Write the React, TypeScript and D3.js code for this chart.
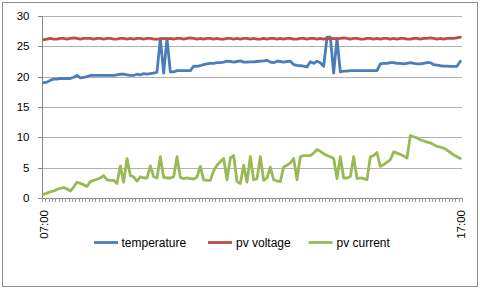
import React from "react";
import * as d3 from "d3";

const timeLabels = ["07:00", "17:00"];
const yTicks = [0, 5, 10, 15, 20, 25, 30];
const seriesNames = ["temperature", "pv voltage", "pv current"];
const seriesColors = ["#4A7EBB", "#BE4B48", "#98B954"];

const temperature = [
  19.0, 19.1, 19.4, 19.6, 19.6, 19.7, 19.7, 19.7, 19.7, 19.9,
  20.2, 19.8, 19.9, 20.0, 20.2, 20.2, 20.2, 20.2, 20.2, 20.2,
  20.2, 20.2, 20.3, 20.4, 20.4, 20.3, 20.2, 20.2, 20.4, 20.3,
  20.5, 20.4, 20.5, 20.6, 20.75, 26.3, 20.6, 26.3, 20.8, 20.8,
  21.0, 21.0, 21.0, 21.0, 21.0, 21.75, 21.7, 21.8, 22.0, 22.1,
  22.2, 22.2, 22.3, 22.3, 22.4, 22.55, 22.5, 22.4, 22.5, 22.6,
  22.4, 22.4, 22.45, 22.45, 22.5, 22.55, 22.6, 22.7, 22.4, 22.3,
  22.55, 22.5, 22.4, 22.5, 22.55, 22.0, 21.85, 21.8, 21.75, 21.6,
  22.45, 22.2, 22.55, 22.3, 21.7, 26.5, 26.5, 20.6, 26.3, 20.8,
  20.9, 20.9, 21.0, 21.0, 21.0, 21.0, 21.0, 21.0, 21.0, 21.0,
  21.0, 22.1, 22.2, 22.2, 22.3, 22.3, 22.2, 22.2, 22.1, 22.2,
  22.3, 22.2, 22.1, 22.1, 22.2, 22.3, 22.3, 22.0, 21.9, 21.8,
  21.75, 21.75, 21.7, 21.7, 21.7, 22.55,
];

const pvVoltage = [
  26.1, 26.2, 26.3, 26.2, 26.2, 26.3, 26.3, 26.2, 26.3, 26.4,
  26.3, 26.2, 26.3, 26.3, 26.3, 26.2, 26.3, 26.3, 26.2, 26.3,
  26.3, 26.2, 26.2, 26.3, 26.3, 26.2, 26.3, 26.2, 26.3, 26.3,
  26.2, 26.3, 26.3, 26.2, 26.2, 26.2, 26.3, 26.2, 26.3, 26.2,
  26.3, 26.3, 26.2, 26.3, 26.4, 26.3, 26.2, 26.3, 26.2, 26.3,
  26.3, 26.2, 26.3, 26.2, 26.2, 26.3, 26.3, 26.2, 26.3, 26.2,
  26.3, 26.3, 26.2, 26.3, 26.2, 26.2, 26.3, 26.2, 26.3, 26.3,
  26.2, 26.3, 26.2, 26.3, 26.3, 26.2, 26.2, 26.3, 26.3, 26.2,
  26.3, 26.3, 26.2, 26.3, 26.2, 26.3, 26.2, 26.3, 26.2, 26.3,
  26.4, 26.3, 26.2, 26.3, 26.3, 26.2, 26.2, 26.3, 26.3, 26.2,
  26.3, 26.2, 26.3, 26.3, 26.2, 26.3, 26.2, 26.3, 26.3, 26.2,
  26.2, 26.3, 26.3, 26.2, 26.3, 26.3, 26.4, 26.3, 26.2, 26.3,
  26.2, 26.3, 26.3, 26.3, 26.4, 26.5,
];

const pvCurrent = [
  0.6, 0.8, 1.0, 1.15, 1.4, 1.6, 1.7, 1.5, 1.15, 1.8,
  2.6, 2.4, 2.2, 1.9, 2.7, 2.9, 3.1, 3.3, 3.7, 3.0,
  2.9, 2.9, 2.4, 5.3, 2.6, 6.5, 3.7, 3.5, 2.8, 3.5,
  3.3, 3.3, 5.3, 3.5, 3.3, 6.8, 3.4, 3.3, 3.3, 3.5,
  6.8, 3.4, 3.2, 3.3, 3.2, 3.1, 3.5, 5.2, 3.0, 2.9,
  2.9, 4.5, 5.4, 6.0, 6.5, 3.0, 6.6, 7.0, 2.7, 2.4,
  5.4, 2.6, 6.8, 3.0, 3.2, 6.8, 2.9, 3.3, 5.1, 3.0,
  2.8, 2.7, 5.1, 5.4, 5.8, 6.5, 3.0, 6.8, 7.0, 7.0,
  7.0, 7.4, 8.0, 7.7, 7.3, 7.0, 6.8, 6.5, 3.2, 6.8,
  3.3, 3.3, 3.5, 6.8, 3.2, 3.3, 3.2, 3.0, 6.8, 7.0,
  7.5, 5.2, 5.5, 5.9, 6.3, 7.6, 7.4, 7.2, 6.9, 6.6,
  10.3, 10.1, 9.9, 9.6, 9.4, 9.2, 9.1, 8.8, 8.5, 8.4,
  8.2, 7.9, 7.5, 7.1, 6.8, 6.5,
];

const allSeries = [temperature, pvVoltage, pvCurrent];

export default function App() {
  const W = 480;
  const H = 290;
  const left = 42;
  const right = 462;
  const top = 16;
  const bottom = 198;
  const n = temperature.length;
  const idx = d3.range(n);

  const x = d3.scaleBand<number>().domain(idx).range([left, right]).paddingInner(0).paddingOuter(0);
  const bw = x.bandwidth();
  const cx = (i: number) => (x(i) as number) + bw / 2;
  const y = d3.scaleLinear().domain([0, 30]).range([bottom, top]);

  const line = d3
    .line<number>()
    .x((_, i) => cx(i))
    .y((d) => y(d));

  const tickXs = d3.range(n + 1).map((i) => left + i * bw);
  const font = "'Liberation Sans', Arial, sans-serif";
  const labelIdx = [0, n - 1];

  const legendItems = [
    { lx: 94, tx: 121.5 },
    { lx: 208, tx: 236 },
    { lx: 308.5, tx: 336.5 },
  ];

  return (
    <svg
      width={W}
      height={H}
      style={{ position: "absolute", left: 0, top: 0, background: "#fff" }}
    >
      <rect x={2.5} y={2.5} width={475} height={284} fill="#fff" stroke="#8c8c8c" strokeWidth={1} />
      {yTicks.map((t) => (
        <g key={t}>
          {t > 0 && (
            <line x1={left} x2={right} y1={Math.round(y(t)) + 0.5} y2={Math.round(y(t)) + 0.5} stroke="#b0b0b0" strokeWidth={1} />
          )}
          <line x1={left - 4} x2={left} y1={Math.round(y(t)) + 0.5} y2={Math.round(y(t)) + 0.5} stroke="#868686" />
          <text
            x={29.5}
            y={y(t)}
            textAnchor="end"
            dominantBaseline="central"
            fontFamily={font}
            fontSize={11.5}
            fill="#000"
          >
            {t}
          </text>
        </g>
      ))}
      <line x1={left + 0.5} x2={left + 0.5} y1={top} y2={bottom} stroke="#868686" />
      <line x1={left} x2={right} y1={bottom + 0.5} y2={bottom + 0.5} stroke="#868686" />
      {tickXs.map((tx, i) => (
        <line key={i} x1={Math.round(tx) + 0.5} x2={Math.round(tx) + 0.5} y1={bottom} y2={bottom + 4} stroke="#9a9a9a" />
      ))}
      {labelIdx.map((i, k) => (
        <text
          key={i}
          transform={`translate(${cx(i) + 0.5},210) rotate(-90)`}
          textAnchor="end"
          dominantBaseline="central"
          fontFamily={font}
          fontSize={11.5}
          fill="#000"
        >
          {timeLabels[k]}
        </text>
      ))}
      {allSeries.map((s, k) => (
        <path
          key={k}
          d={line(s) || ""}
          fill="none"
          stroke={seriesColors[k]}
          strokeWidth={2.8}
          strokeLinejoin="round"
          strokeLinecap="round"
        />
      ))}
      {legendItems.map((it, k) => (
        <g key={k}>
          <line x1={it.lx} x2={it.lx + 24} y1={242.5} y2={242.5} stroke={seriesColors[k]} strokeWidth={2.8} />
          <text x={it.tx} y={242.5} dominantBaseline="central" fontFamily={font} fontSize={12} fill="#000">
            {seriesNames[k]}
          </text>
        </g>
      ))}
    </svg>
  );
}
